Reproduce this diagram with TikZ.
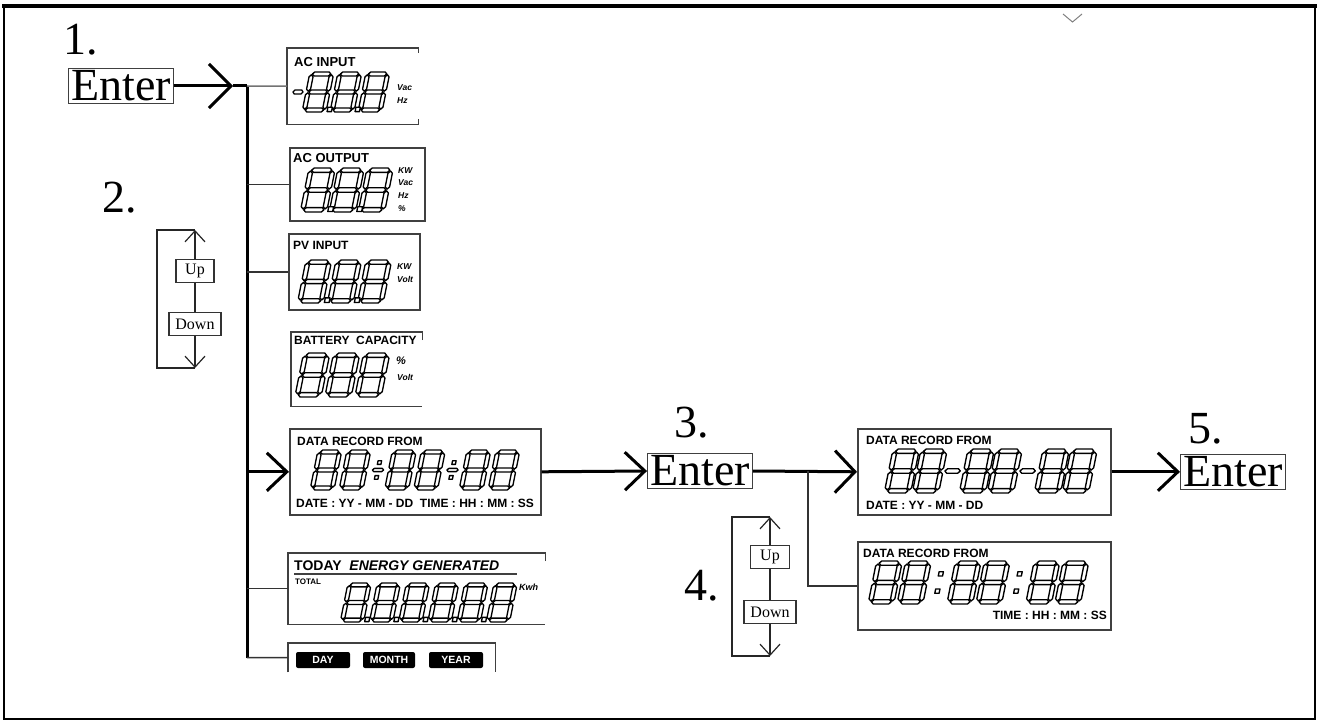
\documentclass[tikz,border=0pt]{standalone}
\usepackage{fontspec}
\setmainfont{Liberation Serif}
\newfontfamily\lcdfont{Liberation Sans}
\usetikzlibrary{arrows.meta}
\tikzset{
  stepnum/.style={font=\fontsize{46}{46}\selectfont, inner sep=0pt, anchor=base west},
  keybox/.style={draw=black!75, line width=1.3pt, inner sep=2.5pt, font=\fontsize{46}{46}\selectfont},
  smallkey/.style={draw=black!80, fill=white, line width=1.1pt, inner sep=0pt, minimum height=23pt, font=\fontsize{16}{16}\selectfont},
  panel/.style={draw=black!75, line width=1.6pt, anchor=north west, inner sep=0pt},
  panelopen/.style={draw=none, anchor=north west, inner sep=0pt},
  pline/.style={draw=black!75, line width=1.6pt},
  lcdlabel/.style={font=\lcdfont\bfseries\fontsize{12}{12}\selectfont, anchor=west, inner sep=0pt},
  biglabel/.style={lcdlabel, font=\lcdfont\bfseries\fontsize{13}{13}\selectfont},
  unit/.style={font=\lcdfont\bfseries\itshape\fontsize{8.5}{8.5}\selectfont, anchor=west, inner sep=0pt},
  lcdblock/.style={fill=black, text=white, rounded corners=2pt, inner sep=0pt, minimum height=16pt, font=\lcdfont\bfseries\fontsize{10.5}{10.5}\selectfont},
  mainline/.style={line width=3pt, black},
  branchline/.style={line width=1.5pt, black!80},
  bracketline/.style={line width=1.2pt, black!85},
  bigarrow/.style={-{Straight Barb[length=20pt,width=38pt]}},
  smallarrow/.style={-{Straight Barb[length=11pt,width=20pt]}},
  seg/.style={draw=black, fill=white, line width=1.35pt, line join=round},
  lcd/.style={scale=#1, xslant=0.2},
  d8/.pic={
    \path[seg] (0.14,0.1)--(0.24,0)--(0.96,0)--(1.06,0.1)--(0.96,0.2)--(0.24,0.2)--cycle;
    \path[seg] (0.14,1)--(0.24,0.9)--(0.96,0.9)--(1.06,1)--(0.96,1.1)--(0.24,1.1)--cycle;
    \path[seg] (0.14,1.9)--(0.24,1.8)--(0.96,1.8)--(1.06,1.9)--(0.96,2)--(0.24,2)--cycle;
    \path[seg] (0.1,0.14)--(0.2,0.24)--(0.2,0.86)--(0.1,0.96)--(0,0.86)--(0,0.24)--cycle;
    \path[seg] (1.1,0.14)--(1.2,0.24)--(1.2,0.86)--(1.1,0.96)--(1.0,0.86)--(1.0,0.24)--cycle;
    \path[seg] (0.1,1.04)--(0.2,1.14)--(0.2,1.76)--(0.1,1.86)--(0,1.76)--(0,1.14)--cycle;
    \path[seg] (1.1,1.04)--(1.2,1.14)--(1.2,1.76)--(1.1,1.86)--(1.0,1.76)--(1.0,1.14)--cycle;
  },
  ddot/.pic={\path[seg] (1.25,1.76) rectangle (1.47,1.98);},
  dminus/.pic={\path[seg] (0,1)--(0.08,0.9)--(0.42,0.9)--(0.5,1)--(0.42,1.1)--(0.08,1.1)--cycle;},
  ddash/.pic={\path[seg] (-0.35,1)--(-0.25,0.9)--(0.25,0.9)--(0.35,1)--(0.25,1.1)--(-0.25,1.1)--cycle;},
  dcolon/.pic={\path[seg] (-0.1,0.5) rectangle (0.1,0.7); \path[seg] (-0.1,1.3) rectangle (0.1,1.5);},
  ddiv/.pic={\path[seg] (-0.09,0.54) rectangle (0.09,0.72); \path[seg] (-0.09,1.28) rectangle (0.09,1.46);
    \path[seg] (-0.28,1)--(-0.2,0.92)--(0.2,0.92)--(0.28,1)--(0.2,1.08)--(-0.2,1.08)--cycle;},
}
\begin{document}
\begin{tikzpicture}[x=1pt,y=-1pt]
\useasboundingbox (0,0) rectangle (1319,722);
% frame
\draw[line width=2pt] (4,6) rectangle (1315,719);
\draw[line width=3.5pt] (2,6) -- (1317,6);
\draw[black!50, line width=1pt] (1063,14) -- (1072.5,22) -- (1082,14);

% step numbers and keys
\node[stepnum] (n1) at (63,55) {1.};
\node[stepnum] (n2) at (102,212) {2.};
\node[stepnum] (n3) at (674,437) {3.};
\node[stepnum] (n4) at (684,600) {4.};
\node[stepnum] (n5) at (1188,443) {5.};
\node[keybox] (enter1) at (121,86) {Enter};
\node[keybox] (enter3) at (700,471) {Enter};
\node[keybox] (enter5) at (1233,472) {Enter};

% panels
\node[panelopen, minimum width=131pt, minimum height=76pt] (acin) at (287,48) {};
\draw[pline] ([yshift=-5pt]acin.north east) -- (acin.north east) -- (acin.north west) -- (acin.south west) -- (acin.south east) -- ([yshift=5pt]acin.south east);
\node[panel, minimum width=135pt, minimum height=73pt] (acout) at (289,147) {};
\node[panel, minimum width=131pt, minimum height=76pt] (pvin) at (288,233) {};
\node[panelopen, minimum width=131pt, minimum height=74pt] (batt) at (291,332) {};
\draw[pline] ([yshift=-8pt]batt.north east) -- (batt.north east) -- (batt.north west) -- (batt.south west) -- (batt.south east);
\node[panel, minimum width=251pt, minimum height=86pt] (recA) at (289,428) {};
\node[panelopen, minimum width=257pt, minimum height=71pt] (today) at (288,553) {};
\draw[pline] ([yshift=-8pt]today.north east) -- (today.north east) -- (today.north west) -- (today.south west) -- (today.south east);
\node[panelopen, minimum width=207pt, minimum height=29pt] (dmy) at (288,643) {};
\draw[pline] (dmy.south west) -- (dmy.north west) -- (dmy.north east) -- (dmy.south east);
\node[panel, minimum width=253pt, minimum height=86pt] (recB) at (857,428) {};
\node[panel, minimum width=253pt, minimum height=88pt] (recC) at (857,541) {};

% AC INPUT content
\node[biglabel] (l1) at (294,62) {AC INPUT};
\pic[lcd=20] at (297,72) {dminus};
\foreach \x in {310,338,366} \pic[lcd=20] at (\x,72) {d8};
\foreach \x in {310,338} \pic[lcd=20] at (\x,72) {ddot};
\node[unit] (u1a) at (397,88) {Vac};
\node[unit] (u1b) at (397,101) {Hz};

% AC OUTPUT content
\node[biglabel] (l2) at (293,158) {AC OUTPUT};
\foreach \x in {309,338,367} \pic[lcd=22] at (\x,168) {d8};
\foreach \x in {309,338} \pic[lcd=22] at (\x,168) {ddot};
\node[unit] (u2a) at (398,171) {KW};
\node[unit] (u2b) at (398,183) {Vac};
\node[unit] (u2c) at (398,196) {Hz};
\node[unit] (u2d) at (398,209) {\%};

% PV INPUT content
\node[lcdlabel] (l3) at (293,245) {PV INPUT};
\foreach \x in {306,336,366} \pic[lcd=21.5] at (\x,260) {d8};
\foreach \x in {306,336} \pic[lcd=21.5] at (\x,260) {ddot};
\node[unit] (u3a) at (397,267) {KW};
\node[unit] (u3b) at (397,279) {Volt};

% BATTERY content
\node[lcdlabel] (l4) at (294,340) {BATTERY\ \ CAPACITY};
\foreach \x in {303.6,333.6,363.6} \pic[lcd=22] at (\x,353) {d8};
\node[unit, font=\lcdfont\bfseries\itshape\fontsize{11}{11}\selectfont] (u4a) at (396,361) {\%};
\node[unit] (u4b) at (397,377) {Volt};

% DATA RECORD (A)
\node[lcdlabel] (l5) at (297,441) {DATA RECORD FROM};
\foreach \x in {318,347,392.5,421.5,467,496} \pic[lcd=20] at (\x,450) {d8};
\foreach \x in {382,456.5} \pic[lcd=20] at (\x,450) {ddiv};
\node[lcdlabel] (f5) at (296,503) {DATE : YY - MM - DD\ \ TIME : HH : MM : SS};

% TODAY
\node[lcdlabel, font=\lcdfont\bfseries\fontsize{14}{14}\selectfont] (l6) at (294,566) {TODAY\ \ \textit{ENERGY GENERATED}};
\draw[line width=1.2pt, black!75] (294,574) -- (517,574);
\node[lcdlabel, font=\lcdfont\bfseries\fontsize{8}{8}\selectfont] (l6b) at (295,582) {TOTAL};
\foreach \x in {348,377.2,406.4,435.6,464.8,494} \pic[lcd=19.5] at (\x,583) {d8};
\foreach \x in {348,377.2,406.4,435.6,464.8} \pic[lcd=19.5] at (\x,583) {ddot};
\node[unit, font=\lcdfont\bfseries\itshape\fontsize{9}{9}\selectfont] (u6) at (519,587) {Kwh};

% DAY MONTH YEAR
\node[lcdblock, minimum width=54pt] (day) at (323,660) {DAY};
\node[lcdblock, minimum width=52pt] (month) at (389,660) {MONTH};
\node[lcdblock, minimum width=54pt] (year) at (456,660) {YEAR};

% DATA RECORD (B)
\node[lcdlabel] (l7) at (866,440) {DATA RECORD FROM};
\foreach \x in {893,921,968,996,1043,1071} \pic[lcd=22] at (\x,449) {d8};
\foreach \x in {957,1032} \pic[lcd=22] at (\x,449) {ddash};
\node[lcdlabel] (f7) at (866,505) {DATE : YY - MM - DD};

% DATA RECORD (C)
\node[lcdlabel] (l8) at (863,553) {DATA RECORD FROM};
\foreach \x in {876.6,905.6,955.4,984.4,1034.2,1063.2} \pic[lcd=21.5] at (\x,561) {d8};
\foreach \x in {943.4,1022.2} \pic[lcd=21.5] at (\x,561) {dcolon};
\node[lcdlabel, anchor=east] (f8) at (1107,615) {TIME : HH : MM : SS};

% connectors
\coordinate (t1) at (233,86);
\coordinate (trunkTop) at (247,86);
\coordinate (trunkBot) at (247,657.5);
\draw[mainline, -{Straight Barb[length=22pt,width=44pt]}] (enter1.east) -- (t1);
\draw[mainline] (t1) -- (trunkTop);
\draw[mainline] (trunkTop) -- (trunkBot);
\draw[branchline, black!55] (trunkTop) -- (acin.west);
\draw[branchline] (trunkTop |- acout.west) -- (acout.west);
\draw[branchline] (trunkTop |- pvin.west) -- (pvin.west);
\draw[branchline] (trunkTop |- today.west) -- (today.west);
\draw[branchline] (trunkBot) -- (dmy.west);
\draw[mainline, bigarrow] (trunkTop |- recA.west) -- (recA.west);
\draw[mainline, bigarrow] (recA.east) -- (enter3.west);
\draw[mainline, -{Straight Barb[length=20pt,width=42pt]}] (enter3.east) -- (recB.west);
\coordinate (br) at (808,471);
\draw[branchline] (br) |- (recC.west);
\draw[mainline, bigarrow] (recB.east) -- (recB.east -| enter5.west);

% Up/Down brackets
\node[smallkey, minimum width=38pt] (up1) at (195,271) {Up};
\node[smallkey, minimum width=52pt] (down1) at (195,324) {Down};
\coordinate (b1t) at (195,230);
\coordinate (b1b) at (195,368);
\draw[bracketline] (b1t) -- (157,230) -- (157,368) -- (b1b);
\draw[bracketline, smallarrow] (up1.north) -- (b1t);
\draw[bracketline] (up1.south) -- (down1.north);
\draw[bracketline, smallarrow] (down1.south) -- (b1b);

\node[smallkey, minimum width=39pt] (up2) at (770,557) {Up};
\node[smallkey, minimum width=52pt] (down2) at (770,612) {Down};
\coordinate (b2t) at (770,517);
\coordinate (b2b) at (770,656);
\draw[bracketline] (b2t) -- (732,517) -- (732,656) -- (b2b);
\draw[bracketline, smallarrow] (up2.north) -- (b2t);
\draw[bracketline] (up2.south) -- (down2.north);
\draw[bracketline, smallarrow] (down2.south) -- (b2b);
\end{tikzpicture}
\end{document}
